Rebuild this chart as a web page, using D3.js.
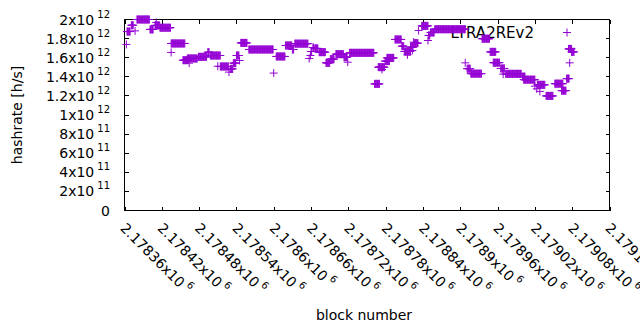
<!DOCTYPE html>
<html>
<head>
<meta charset="utf-8">
<script src="https://d3js.org/d3.v7.min.js"></script>
<style>
  body { margin: 0; background: #fff; }
  svg { display: block; }
  text { font-family: "DejaVu Sans", sans-serif; font-size: 14px; fill: #000; }
</style>
</head>
<body>
<div id="chart"></div>
<script>
// runs of consecutive blocks that share one hashrate value
const runFrom = [2178363, 2178364, 2178371, 2178377, 2178380, 2178401, 2178409, 2178411, 2178417, 2178435,
  2178435, 2178454, 2178461, 2178464, 2178479, 2178494, 2178498, 2178510, 2178514, 2178528,
  2178530, 2178535, 2178540, 2178545, 2178547, 2178560, 2178600, 2178604, 2178619, 2178630,
  2178634, 2178657, 2178659, 2178660, 2178663, 2178666, 2178673, 2178684, 2178691, 2178700,
  2178713, 2178719, 2178722, 2178762, 2178768, 2178774, 2178779, 2178782, 2178795, 2178806,
  2178810, 2178815, 2178820, 2178825, 2178823, 2178826, 2178833, 2178838, 2178848, 2178849,
  2178852, 2178859, 2178908, 2178911, 2178917, 2178935, 2178948, 2178953, 2178965, 2178969,
  2178973, 2179000, 2179002, 2179020, 2179023, 2179024, 2179028, 2179038, 2179052, 2179063,
  2179071, 2179076, 2179074, 2179079];
const runTo = [2178363, 2178369, 2178374, 2178377, 2178400, 2178406, 2178416, 2178411, 2178434, 2178435,
  2178457, 2178462, 2178477, 2178464, 2178492, 2178496, 2178514, 2178510, 2178527, 2178528,
  2178534, 2178539, 2178544, 2178545, 2178557, 2178599, 2178600, 2178618, 2178629, 2178632,
  2178655, 2178657, 2178659, 2178661, 2178664, 2178671, 2178683, 2178690, 2178697, 2178712,
  2178718, 2178719, 2178761, 2178770, 2178778, 2178774, 2178786, 2178793, 2178805, 2178809,
  2178820, 2178815, 2178824, 2178825, 2178823, 2178832, 2178833, 2178848, 2178848, 2178851,
  2178858, 2178908, 2178908, 2178916, 2178934, 2178947, 2178957, 2178963, 2178971, 2178969,
  2178998, 2179004, 2179020, 2179020, 2179023, 2179036, 2179028, 2179049, 2179065, 2179070,
  2179075, 2179076, 2179079, 2179083];
const runHash = [1.739e12, 1.874e12, 1.940e12, 1.881e12, 2.000e12, 1.896e12, 1.938e12, 1.969e12, 1.914e12, 1.655e12,
  1.749e12, 1.574e12, 1.592e12, 1.543e12, 1.609e12, 1.658e12, 1.623e12, 1.511e12, 1.508e12, 1.449e12,
  1.483e12, 1.543e12, 1.623e12, 1.571e12, 1.755e12, 1.686e12, 1.439e12, 1.613e12, 1.728e12, 1.686e12,
  1.747e12, 1.592e12, 1.623e12, 1.665e12, 1.707e12, 1.697e12, 1.658e12, 1.546e12, 1.585e12, 1.637e12,
  1.606e12, 1.553e12, 1.651e12, 1.326e12, 1.501e12, 1.477e12, 1.564e12, 1.598e12, 1.791e12, 1.721e12,
  1.665e12, 1.630e12, 1.710e12, 1.763e12, 1.676e12, 1.752e12, 1.885e12, 1.933e12, 1.780e12, 1.833e12,
  1.864e12, 1.898e12, 1.546e12, 1.485e12, 1.433e12, 1.799e12, 1.661e12, 1.548e12, 1.487e12, 1.428e12,
  1.431e12, 1.402e12, 1.370e12, 1.302e12, 1.274e12, 1.316e12, 1.247e12, 1.200e12, 1.328e12, 1.255e12,
  1.381e12, 1.546e12, 1.692e12, 1.661e12];

const xTicks = [2178360, 2178420, 2178480, 2178540, 2178600, 2178660, 2178720,
  2178780, 2178840, 2178900, 2178960, 2179020, 2179080, 2179140];
const xTickMant = ["2.17836", "2.17842", "2.17848", "2.17854", "2.1786", "2.17866", "2.17872",
  "2.17878", "2.17884", "2.1789", "2.17896", "2.17902", "2.17908", "2.17914"];
const yTicks = [0, 2e11, 4e11, 6e11, 8e11, 1e12, 1.2e12, 1.4e12, 1.6e12, 1.8e12, 2e12];
const yTickMant = ["0", "2x10", "4x10", "6x10", "8x10", "1x10", "1.2x10", "1.4x10", "1.6x10", "1.8x10", "2x10"];
const yTickExp = ["", "11", "11", "11", "11", "12", "12", "12", "12", "12", "12"];
const seriesName = "LYRA2REv2";

const W = 640, H = 330;
const pLeft = 124.5, pRight = 609.5, pTop = 19.5, pBottom = 210.5;
const color = "#9400d3";

const svg = d3.select("#chart").append("svg")
  .attr("width", W).attr("height", H);

const x = d3.scaleLinear().domain([2178360, 2179140]).range([pLeft, pRight]);
const y = d3.scaleLinear().domain([0, 2e12]).range([pBottom, pTop]);

// one point per block
let pts = [];
runFrom.forEach((f, i) => {
  for (let b = f; b <= runTo[i]; b++) pts.push({b: b, v: runHash[i]});
});

const tl = 4;
const axes = svg.append("g").attr("stroke", "#000").attr("stroke-width", 1)
  .attr("shape-rendering", "crispEdges");

// ticks on all four sides, pointing in
xTicks.forEach(t => {
  const px = Math.round(x(t)) + 0.5;
  axes.append("line").attr("x1", px).attr("x2", px).attr("y1", pBottom).attr("y2", pBottom - tl);
  axes.append("line").attr("x1", px).attr("x2", px).attr("y1", pTop).attr("y2", pTop + tl);
});
yTicks.forEach(t => {
  const py = Math.round(y(t) - 0.5) + 0.5;
  axes.append("line").attr("x1", pLeft).attr("x2", pLeft + tl).attr("y1", py).attr("y2", py);
  axes.append("line").attr("x1", pRight).attr("x2", pRight - tl).attr("y1", py).attr("y2", py);
});

// y tick labels
yTicks.forEach((t, i) => {
  const tx = svg.append("text")
    .attr("x", 110).attr("y", y(t) + 5)
    .attr("text-anchor", "end")
    .text(yTickMant[i]);
  if (yTickExp[i]) {
    tx.append("tspan").attr("dx", 3).attr("dy", -7)
      .style("font-size", "10px").text(yTickExp[i]);
  }
});

// x tick labels, rotated
xTicks.forEach((t, i) => {
  const tx = svg.append("text")
    .attr("transform", `translate(${x(t) - 5},${229}) rotate(45)`)
    .text(xTickMant[i] + "x10");
  tx.append("tspan").attr("dx", 3).attr("dy", -7)
    .style("font-size", "10px").text("6");
});

svg.append("text")
  .attr("transform", `translate(22,${(pTop + pBottom) / 2}) rotate(-90)`)
  .attr("text-anchor", "middle")
  .text("hashrate [h/s]");

svg.append("text")
  .attr("x", 364).attr("y", 320)
  .attr("text-anchor", "middle")
  .text("block number");

// key
svg.append("text")
  .attr("x", 534).attr("y", 38)
  .attr("text-anchor", "end")
  .style("font-size", "15px")
  .text(seriesName);

const plus = "M-4,0H4M0,-4V4";
svg.append("path")
  .attr("d", plus)
  .attr("transform", "translate(567,32.5)")
  .attr("stroke", color).attr("fill", "none");

svg.append("g")
  .selectAll("path")
  .data(pts)
  .join("path")
  .attr("d", plus)
  .attr("transform", d => `translate(${x(d.b)},${y(d.v)})`)
  .attr("stroke", color)
  .attr("stroke-width", 1)
  .attr("fill", "none");

// border
axes.append("rect")
  .attr("x", pLeft).attr("y", pTop)
  .attr("width", pRight - pLeft).attr("height", pBottom - pTop)
  .attr("fill", "none");
</script>
</body>
</html>
